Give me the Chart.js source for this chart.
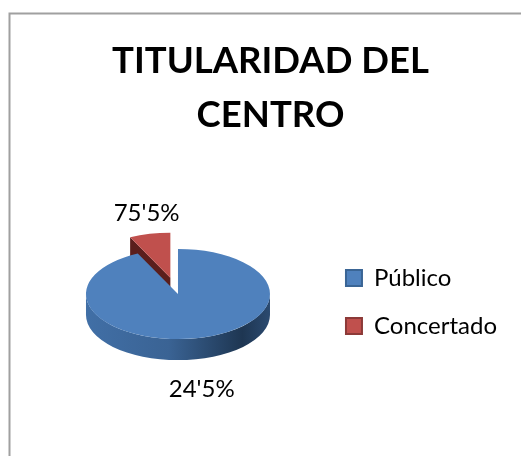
<!DOCTYPE html>
<html><head><meta charset="utf-8">
<style>html,body{margin:0;padding:0;background:#fff}canvas{display:block}</style>
<script src="https://cdn.jsdelivr.net/npm/chart.js@4"></script>
</head><body>
<canvas id="c" width="521" height="456"></canvas>
<script>
const categories = ["Público", "Concertado"];
const sliceValues = [92.8, 7.2];
const sliceLabels = ["24'5%", "75'5%"];
const titleLines = ["TITULARIDAD DEL", "CENTRO"];
const fillColors = ["#4f81bd", "#c0504d"];
const edgeColors = ["#3a6595", "#8c3a38"];

const SQUASH = 0.49, DEPTH = 21, EXPLODE = 34, LIFT = 8, FONT = "Lato";

const pie3d = {
  id: "pie3d",
  afterDatasetsUpdate(chart) {
    const arcs = chart.getDatasetMeta(0).data;
    arcs.forEach(el => { el.y -= LIFT; });
    const el = arcs[1];
    const mid = (el.startAngle + el.endAngle) / 2;
    el.x += Math.cos(mid) * EXPLODE;
    el.y += Math.sin(mid) * EXPLODE;
  },
  beforeDraw(chart) {
    const c = chart.ctx;
    c.save();
    c.strokeStyle = "#a0a0a0";
    c.lineWidth = 2;
    c.beginPath();
    c.moveTo(9.5, 456);
    c.lineTo(9.5, 13.5);
    c.lineTo(521, 13.5);
    c.stroke();
    c.restore();
  },
  beforeDatasetsDraw(chart) {
    const c = chart.ctx, [blue, red] = chart.getDatasetMeta(0).data;
    const r = blue.outerRadius, ry = r * SQUASH;
    const a = red.startAngle;
    const ox = red.x + Math.cos(a) * r;
    const oy = blue.y + (red.y - blue.y) * SQUASH + Math.sin(a) * ry;
    const ax = red.x, ay = blue.y + (red.y - blue.y) * SQUASH;
    c.save();
    c.fillStyle = "#5a1e1c";
    c.beginPath();
    c.moveTo(ox, oy);
    c.lineTo(ax, ay);
    c.lineTo(ax, ay + DEPTH);
    c.lineTo(ox, oy + DEPTH);
    c.closePath();
    c.fill();
    const g = c.createLinearGradient(blue.x - r, 0, blue.x + r, 0);
    g.addColorStop(0, "#416fa6");
    g.addColorStop(0.45, "#3a6394");
    g.addColorStop(0.85, "#1e3652");
    g.addColorStop(1, "#2b4a70");
    c.fillStyle = g;
    c.beginPath();
    c.ellipse(blue.x, blue.y, r, ry, 0, 0, Math.PI);
    c.ellipse(blue.x, blue.y + DEPTH, r, ry, 0, Math.PI, 0, true);
    c.closePath();
    c.fill();
    c.restore();
    c.save();
    c.translate(blue.x, blue.y);
    c.scale(1, SQUASH);
    c.translate(-blue.x, -blue.y);
  },
  afterDatasetsDraw(chart) {
    const c = chart.ctx, arcs = chart.getDatasetMeta(0).data;
    c.restore();
    const cy = arcs[0].y, ry = arcs[0].outerRadius * SQUASH;
    c.save();
    c.fillStyle = "#000";
    c.font = "24px " + FONT;
    c.textAlign = "center";
    arcs.forEach((el, i) => {
      const mid = (el.startAngle + el.endAngle) / 2;
      const below = Math.sin(mid) > 0;
      const x = el.x + Math.cos(mid) * el.outerRadius * 1.15;
      const y = cy + (el.y - cy) * SQUASH + Math.sin(mid) * ry + (below ? DEPTH + 18 : -9);
      c.textBaseline = below ? "top" : "bottom";
      c.fillText(sliceLabels[i], x, y);
    });
    c.restore();
  }
};

new Chart(document.getElementById("c"), {
  type: "pie",
  plugins: [pie3d],
  data: {
    labels: categories,
    datasets: [{
      data: sliceValues,
      backgroundColor: fillColors,
      borderColor: edgeColors,
      borderWidth: 0,
      radius: 92
    }]
  },
  options: {
    responsive: false,
    animation: false,
    events: [],
    layout: { padding: { left: 34, right: 14, top: 34, bottom: 82 } },
    plugins: {
      tooltip: { enabled: false },
      title: {
        display: true,
        text: titleLines,
        color: "#000",
        font: { family: FONT, size: 36.5, weight: "bold", lineHeight: 1.48 },
        padding: { top: 0, bottom: 88 }
      },
      legend: {
        position: "right",
        align: "center",
        fullSize: false,
        labels: {
          boxWidth: 16,
          boxHeight: 16,
          padding: 24,
          color: "#000",
          font: { family: FONT, size: 24 },
          generateLabels: () => categories.map((t, i) => ({
            text: t, fillStyle: fillColors[i], strokeStyle: edgeColors[i],
            lineWidth: 2, index: i, hidden: false
          }))
        }
      }
    }
  }
});
</script>
</body></html>
